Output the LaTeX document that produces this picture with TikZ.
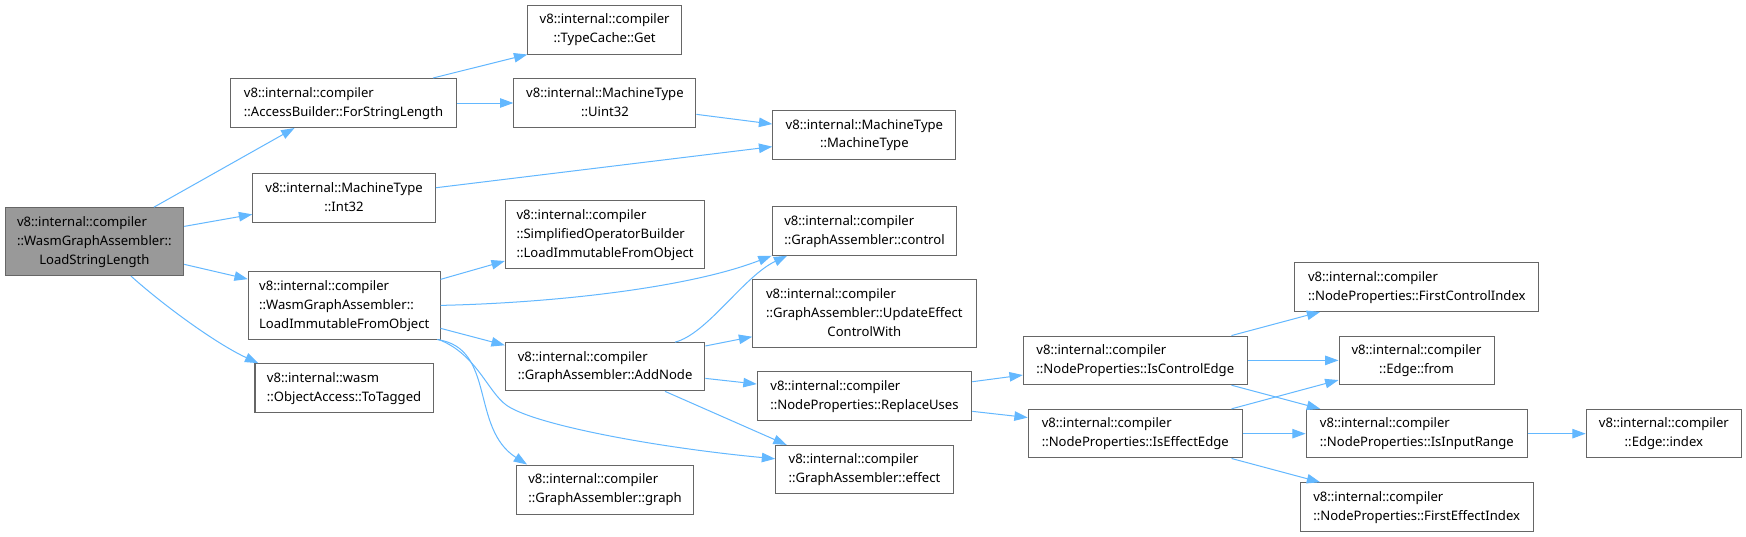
\documentclass[tikz,border=0pt]{standalone}
\usepackage{fontspec}
\setmainfont{Noto Sans}
\usetikzlibrary{arrows.meta,calc}
\definecolor{edgeblue}{HTML}{63B8FF}
\definecolor{boxborder}{HTML}{666666}
\definecolor{rootfill}{HTML}{999999}
\newcommand{\lbl}[2]{\begin{tabular}{@{}l@{}}#1\\\multicolumn{1}{@{}c@{}}{#2}\end{tabular}}
\begin{document}
\begin{tikzpicture}[x=1pt,y=-1pt,
  box/.style={draw=boxborder,line width=0.9pt,fill=white,inner sep=0pt,
    font=\fontsize{11.75}{17}\selectfont,anchor=center},
  rootbox/.style={box,fill=rootfill},
  edge/.style={draw=edgeblue,line width=0.9pt,-{Triangle[length=12pt,width=8.5pt]}}
]
\fill[white] (0,0) rectangle (1568,482);
\useasboundingbox (0,0) rectangle (1568,482);

% nodes
\node[rootbox,minimum width=160.5pt,minimum height=61pt] (root) at (84.75,217)
  {\lbl{v8::internal::compiler\\::WasmGraphAssembler::}{LoadStringLength}};
\node[box,minimum width=203pt,minimum height=44pt] (AB) at (308.5,92.5)
  {\lbl{v8::internal::compiler}{::AccessBuilder::ForStringLength}};
\node[box,minimum width=138pt,minimum height=44pt] (TC) at (543,26.5)
  {\lbl{v8::internal::compiler}{::TypeCache::Get}};
\node[box,minimum width=163.5pt,minimum height=44pt] (Uint32) at (543.25,92.5)
  {\lbl{v8::internal::MachineType}{::Uint32}};
\node[box,minimum width=164.5pt,minimum height=44pt] (MT) at (776.25,121)
  {\lbl{v8::internal::MachineType}{::MachineType}};
\node[box,minimum width=164pt,minimum height=44pt] (Int32) at (309,178)
  {\lbl{v8::internal::MachineType}{::Int32}};
\node[box,minimum width=179.2pt,minimum height=60.8pt] (SOB) at (543.4,210.9)
  {\lbl{v8::internal::compiler\\::SimplifiedOperatorBuilder}{::LoadImmutableFromObject}};
\node[box,minimum width=165.9pt,minimum height=43.6pt] (ctrl) at (776.35,207.4)
  {\lbl{v8::internal::compiler}{::GraphAssembler::control}};
\node[box,minimum width=172.2pt,minimum height=60.5pt] (LIFO) at (309.1,274.25)
  {\lbl{v8::internal::compiler\\::WasmGraphAssembler::}{LoadImmutableFromObject}};
\node[box,minimum width=200.5pt,minimum height=61pt] (UECW) at (776.25,281.5)
  {\lbl{v8::internal::compiler\\::GraphAssembler::UpdateEffect}{ControlWith}};
\node[box,minimum width=179.2pt,minimum height=43.3pt] (AddNode) at (543.4,329.35)
  {\lbl{v8::internal::compiler}{::GraphAssembler::AddNode}};
\node[box,minimum width=192.7pt,minimum height=43.5pt] (RU) at (776.35,355.75)
  {\lbl{v8::internal::compiler}{::NodeProperties::ReplaceUses}};
\node[box,minimum width=160pt,minimum height=43.4pt] (ToTagged) at (309,348.3)
  {\lbl{v8::internal::wasm}{::ObjectAccess::ToTagged}};
\node[box,minimum width=159.4pt,minimum height=43.5pt] (effect) at (776.3,421.75)
  {\lbl{v8::internal::compiler}{::GraphAssembler::effect}};
\node[box,minimum width=159.3pt,minimum height=44pt] (graph) at (543.35,439.6)
  {\lbl{v8::internal::compiler}{::GraphAssembler::graph}};
\node[box,minimum width=201pt,minimum height=43.7pt] (ICE) at (1019.5,323.65)
  {\lbl{v8::internal::compiler}{::NodeProperties::IsControlEdge}};
\node[box,minimum width=192.2pt,minimum height=43.7pt] (IEE) at (1019.5,389.45)
  {\lbl{v8::internal::compiler}{::NodeProperties::IsEffectEdge}};
\node[box,minimum width=219.1pt,minimum height=43.6pt] (FCI) at (1272.35,257.8)
  {\lbl{v8::internal::compiler}{::NodeProperties::FirstControlIndex}};
\node[box,minimum width=139.2pt,minimum height=43.7pt] (from) at (1272.1,323.65)
  {\lbl{v8::internal::compiler}{::Edge::from}};
\node[box,minimum width=198.8pt,minimum height=43.7pt] (IIR) at (1272.4,389.45)
  {\lbl{v8::internal::compiler}{::NodeProperties::IsInputRange}};
\node[box,minimum width=139.5pt,minimum height=43.7pt] (index) at (1494.25,389.45)
  {\lbl{v8::internal::compiler}{::Edge::index}};
\node[box,minimum width=209.5pt,minimum height=43.5pt] (FEI) at (1272.25,455.25)
  {\lbl{v8::internal::compiler}{::NodeProperties::FirstEffectIndex}};

% edges
\draw[edge] ([xshift=53.5pt]root.north) -- ([xshift=-44pt]AB.south);
\draw[edge] ([yshift=13.7pt]root.east) -- ([yshift=-14.5pt]Int32.west);
\draw[edge] ([yshift=-20.4pt]root.east) -- ([yshift=23.6pt]LIFO.west);
\draw[edge] ([xshift=32.9pt]root.south) .. controls +(30,27) and +(-37,-17) .. ([xshift=-77pt]ToTagged.north);
\draw[edge] ([xshift=80.4pt]AB.north) -- (TC.south west);
\draw[edge] (AB.east) -- (Uint32.west);
\draw[edge] ([yshift=-10.2pt]Uint32.east) -- ([yshift=9.6pt]MT.west);
\draw[edge] ([yshift=9.4pt]Int32.east) -- ([yshift=-10.7pt]MT.west);
\draw[edge] ([yshift=23.35pt]LIFO.east) -- ([yshift=-23.5pt]SOB.west);
\draw[edge] (LIFO.east) .. controls (500,272) and (620,258) .. (ctrl.south west);
\draw[edge] ([yshift=-20.6pt]LIFO.east) -- ([yshift=19.3pt]AddNode.west);
\draw[edge] ([xshift=-3pt]LIFO.south east) .. controls +(53,7.5) and +(-51.35,-32.6) .. ([xshift=-70pt]graph.north);
\draw[edge] ([xshift=-1.6pt]LIFO.south east) .. controls (428,318) and (438,352) .. (455,364)
  .. controls (480,381.6) and (590,402) .. ([yshift=9.75pt]effect.west);
\draw[edge] ([xshift=62.8pt]AddNode.north) .. controls (635,300) and (668,248) .. ([xshift=14pt]ctrl.south west);
\draw[edge] ([yshift=18.65pt]AddNode.east) -- ([yshift=-20.9pt]UECW.west);
\draw[edge] ([yshift=-10.45pt]AddNode.east) -- ([yshift=10.85pt]RU.west);
\draw[edge] ([xshift=53.8pt]AddNode.south) -- ([xshift=-69.8pt]effect.north);
\draw[edge] ([yshift=12.95pt]RU.east) -- ([yshift=-13.15pt]ICE.west);
\draw[edge] ([yshift=-13.65pt]RU.east) -- ([yshift=14.45pt]IEE.west);
\draw[edge] ([xshift=86.4pt]ICE.north) -- ([xshift=-86.75pt]FCI.south);
\draw[edge] (ICE.east) -- (from.west);
\draw[edge] ([xshift=86.5pt]ICE.south) -- ([xshift=-86.8pt]IIR.north);
\draw[edge] ([xshift=86.5pt]IEE.north) -- ([yshift=-17.65pt]from.west);
\draw[edge] (IEE.east) -- (IIR.west);
\draw[edge] ([xshift=86.5pt]IEE.south) -- ([xshift=-86.65pt]FEI.north);
\draw[edge] (IIR.east) -- (index.west);
\end{tikzpicture}
\end{document}
